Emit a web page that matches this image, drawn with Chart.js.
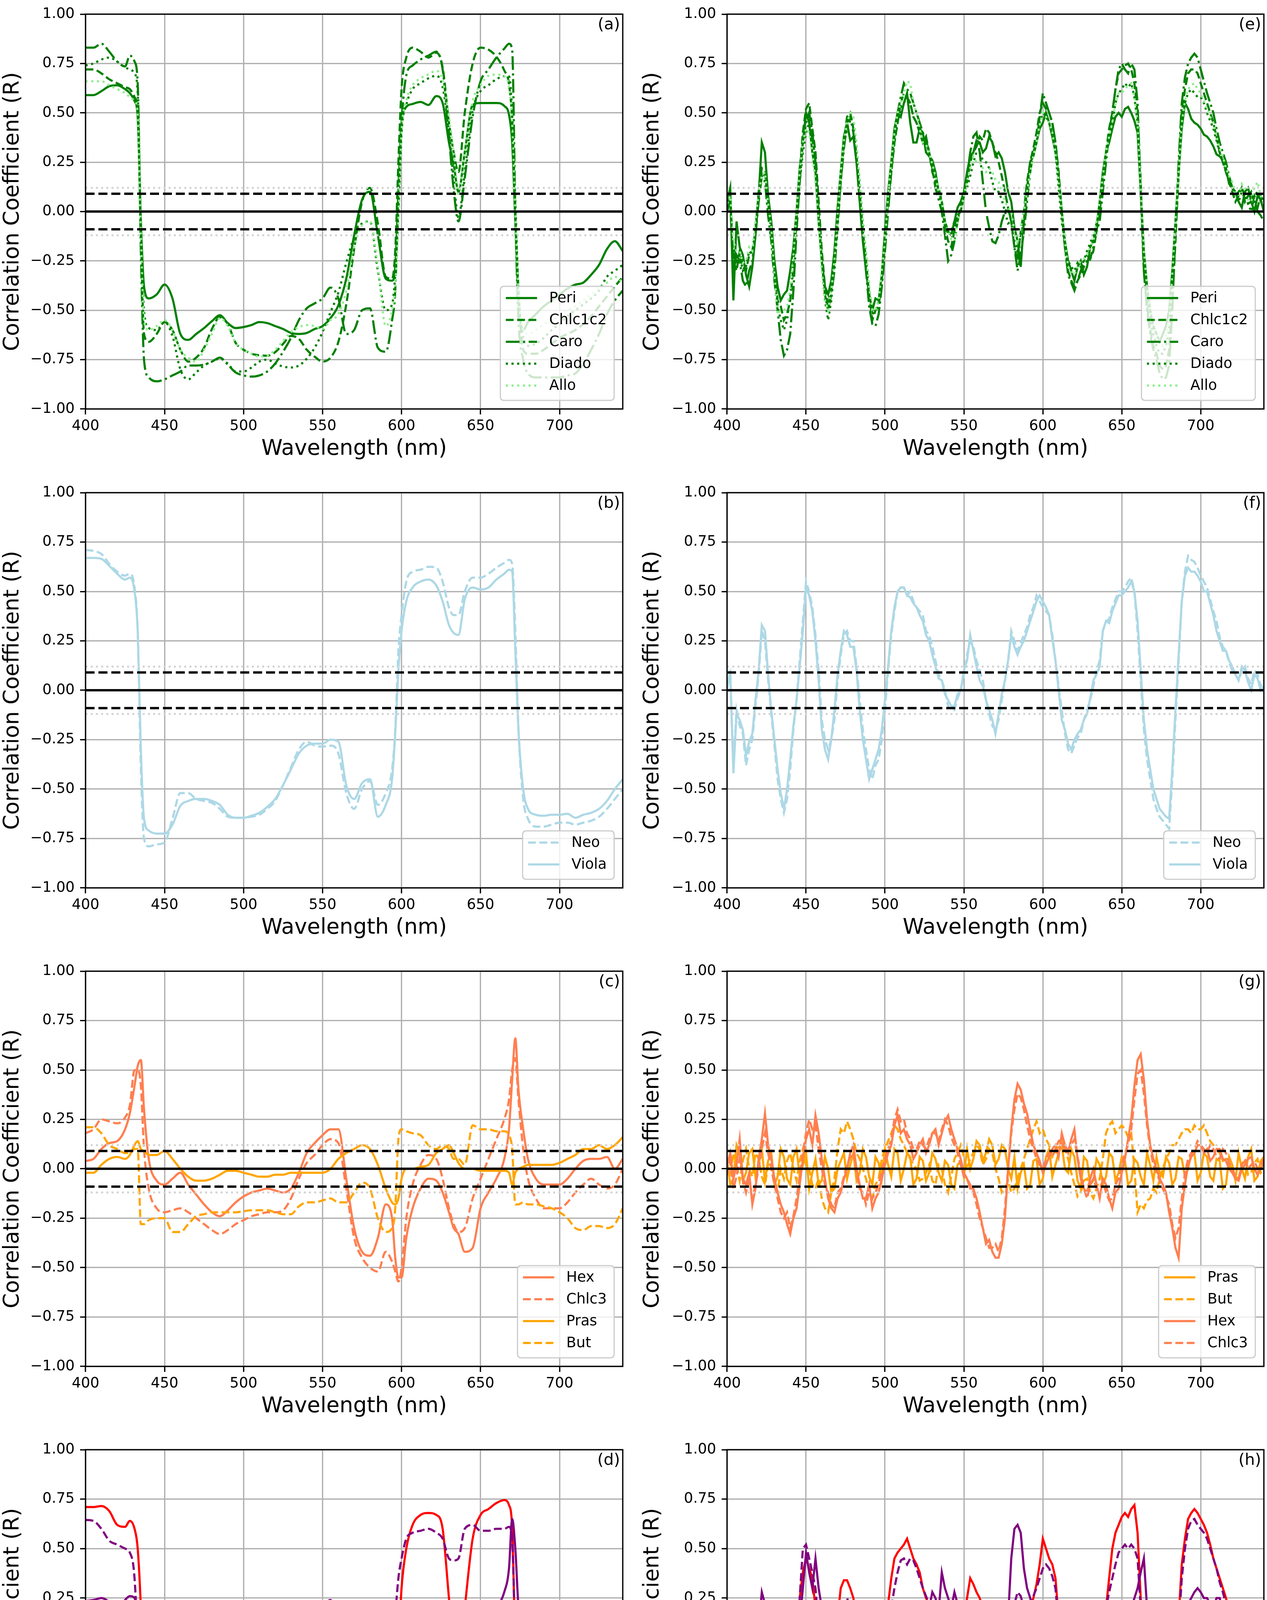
<!DOCTYPE html>
<html>
<head>
<meta charset="utf-8">
<script src="https://cdn.jsdelivr.net/npm/chart.js@4.4.1/dist/chart.umd.min.js"></script>
<style>
html,body{margin:0;padding:0;background:#fff;}
body{position:relative;width:3243px;height:4862px;overflow:hidden;}
canvas{position:absolute;}
</style>
</head>
<body>
<script>
// ---------------- DATA ----------------
const wlSmooth = [400,405,410,415,420,425,428,431,433,435,437,440,445,450,455,460,465,470,475,480,485,490,495,500,505,510,515,520,525,530,535,540,545,550,555,560,565,570,575,580,585,590,594,596,598,600,603,607,612,617,622,626,630,633,636,640,645,650,655,660,665,668,670,672,674,677,680,685,690,695,700,705,710,715,720,725,730,735,740];
const wlNoisy = [400,404,408,412,416,420,424,428,432,436,440,444,448,452,456,460,464,468,472,476,480,484,488,492,496,500,504,508,512,516,520,524,528,532,536,540,544,548,552,556,560,564,568,572,576,580,584,588,592,596,600,604,608,612,616,620,624,628,632,636,640,644,648,652,656,660,664,668,672,676,680,684,688,692,696,700,704,708,712,716,720,724,728,732,736,740];
const wlNoisyMid = [402,406,410,414,418,422,426,430,434,438,442,446,450,454,458,462,466,470,474,478,482,486,490,494,498,502,506,510,514,518,522,526,530,534,538,542,546,550,554,558,562,566,570,574,578,582,586,590,594,598,602,606,610,614,618,622,626,630,634,638,642,646,650,654,658,662,666,670,674,678,682,686,690,694,698,702,706,710,714,718,722,726,730,734,738];
const xTicks = [400,450,500,550,600,650,700];
const yTicks = [-1,-0.75,-0.5,-0.25,0,0.25,0.5,0.75,1];
const sigLevels = [0.09, 0.12];

// (a)
const periA = [0.59,0.59,0.61,0.635,0.64,0.62,0.60,0.56,0.48,-0.05,-0.38, -0.44,-0.42,-0.37,-0.44,-0.62,-0.65,-0.62,-0.59,-0.555,-0.525, -0.565,-0.59,-0.585,-0.575,-0.56,-0.565,-0.58,-0.595,-0.615,-0.62, -0.615,-0.595,-0.58,-0.54,-0.475,-0.34,-0.12,0.06,0.10,-0.12, -0.34,-0.35,-0.28,0.10,0.45,0.53,0.545,0.555,0.54,0.585, 0.55,0.35,0.24,0.10,0.30,0.54,0.55,0.55,0.55,0.535, 0.49,0.35,-0.05,-0.45,-0.60,-0.56,-0.52,-0.48,-0.45,-0.42, -0.39,-0.37,-0.36,-0.32,-0.27,-0.19,-0.15,-0.20];
const chlc12A = [0.72,0.72,0.70,0.67,0.65,0.63,0.62,0.58,0.50,-0.10,-0.62, -0.66,-0.62,-0.56,-0.60,-0.70,-0.76,-0.74,-0.69,-0.595,-0.535, -0.57,-0.665,-0.70,-0.72,-0.728,-0.73,-0.712,-0.67,-0.63,-0.645, -0.70,-0.735,-0.76,-0.74,-0.66,-0.47,-0.19,0.05,0.12,-0.06, -0.33,-0.34,-0.20,0.25,0.62,0.78,0.83,0.81,0.78,0.805, 0.73,0.45,0.30,0.20,0.50,0.75,0.83,0.82,0.785,0.715, 0.645,0.46,0.0,-0.40,-0.70,-0.72,-0.72,-0.70,-0.67,-0.64, -0.62,-0.60,-0.57,-0.53,-0.48,-0.43,-0.38,-0.33];
const caroA = [0.83,0.83,0.85,0.81,0.76,0.735,0.79,0.76,0.65,-0.20,-0.75, -0.84,-0.86,-0.85,-0.83,-0.81,-0.78,-0.78,-0.775,-0.76,-0.74, -0.775,-0.815,-0.83,-0.836,-0.83,-0.81,-0.77,-0.71,-0.64,-0.55, -0.49,-0.465,-0.44,-0.385,-0.44,-0.62,-0.60,-0.50,-0.49,-0.69, -0.71,-0.55,-0.40,0.10,0.45,0.69,0.74,0.77,0.79,0.81, 0.72,0.38,0.11,-0.05,0.17,0.48,0.66,0.72,0.78,0.825, 0.85,0.82,0.0,-0.55,-0.75,-0.82,-0.84,-0.84,-0.84,-0.84, -0.83,-0.82,-0.77,-0.70,-0.62,-0.52,-0.45,-0.40];
const diadoA = [0.74,0.75,0.77,0.78,0.76,0.73,0.72,0.70,0.60,-0.05,-0.50, -0.59,-0.60,-0.56,-0.63,-0.80,-0.85,-0.815,-0.78,-0.76,-0.745, -0.77,-0.81,-0.81,-0.79,-0.76,-0.75,-0.77,-0.785,-0.79,-0.78, -0.745,-0.69,-0.61,-0.51,-0.41,-0.26,-0.13,-0.06,-0.05,-0.30, -0.50,-0.47,-0.32,0.0,0.40,0.54,0.62,0.65,0.675,0.688, 0.63,0.41,0.16,-0.03,0.20,0.51,0.61,0.64,0.67,0.685, 0.685,0.50,0.05,-0.40,-0.64,-0.68,-0.67,-0.64,-0.60,-0.57, -0.53,-0.50,-0.47,-0.44,-0.40,-0.33,-0.30,-0.27];
const alloA = [0.66,0.66,0.66,0.64,0.62,0.60,0.58,0.56,0.50,-0.10,-0.55, -0.60,-0.58,-0.55,-0.60,-0.70,-0.74,-0.76,-0.70,-0.62,-0.54, -0.58,-0.665,-0.70,-0.72,-0.735,-0.73,-0.70,-0.655,-0.61,-0.585, -0.575,-0.58,-0.595,-0.55,-0.52,-0.40,-0.18,-0.07,-0.05,-0.28, -0.58,-0.50,-0.38,-0.05,0.40,0.56,0.64,0.675,0.695,0.713, 0.665,0.48,0.29,0.09,0.30,0.56,0.64,0.688,0.694,0.685, 0.63,0.45,0.0,-0.40,-0.60,-0.62,-0.60,-0.57,-0.55,-0.53, -0.50,-0.48,-0.45,-0.42,-0.39,-0.36,-0.33,-0.36];

// (b)
const neoB = [0.71,0.705,0.69,0.64,0.60,0.58,0.59,0.52,0.30,-0.40,-0.75, -0.79,-0.78,-0.77,-0.65,-0.52,-0.52,-0.55,-0.56,-0.57,-0.60, -0.64,-0.645,-0.645,-0.64,-0.63,-0.60,-0.56,-0.48,-0.39,-0.30, -0.26,-0.28,-0.285,-0.28,-0.32,-0.52,-0.60,-0.50,-0.46,-0.58, -0.52,-0.40,-0.20,0.20,0.38,0.55,0.60,0.61,0.625,0.62, 0.55,0.42,0.38,0.38,0.50,0.57,0.57,0.59,0.62,0.645, 0.66,0.64,0.30,-0.20,-0.55,-0.65,-0.69,-0.69,-0.68,-0.67, -0.67,-0.68,-0.67,-0.66,-0.64,-0.60,-0.55,-0.50];
const violaB = [0.67,0.67,0.665,0.63,0.59,0.56,0.57,0.50,0.30,-0.30,-0.65, -0.71,-0.725,-0.725,-0.68,-0.585,-0.56,-0.55,-0.55,-0.56,-0.58, -0.63,-0.645,-0.645,-0.635,-0.62,-0.59,-0.55,-0.48,-0.40,-0.32, -0.28,-0.27,-0.27,-0.25,-0.26,-0.48,-0.55,-0.47,-0.45,-0.64, -0.58,-0.45,-0.22,0.10,0.30,0.45,0.52,0.55,0.56,0.53, 0.45,0.33,0.29,0.28,0.46,0.52,0.51,0.52,0.56,0.59, 0.61,0.60,0.20,-0.20,-0.50,-0.60,-0.63,-0.635,-0.63,-0.63, -0.625,-0.645,-0.63,-0.62,-0.60,-0.56,-0.50,-0.45];

// (c)
const hexC = [0.04,0.05,0.10,0.13,0.14,0.20,0.28,0.42,0.52,0.55,0.30, 0.05,-0.06,-0.08,-0.05,-0.02,-0.08,-0.13,-0.18,-0.22,-0.24, -0.21,-0.17,-0.14,-0.12,-0.11,-0.10,-0.11,-0.12,-0.10,-0.02, 0.08,0.13,0.17,0.20,0.20,-0.05,-0.30,-0.42,-0.44,-0.35, -0.18,-0.25,-0.45,-0.55,-0.55,-0.35,-0.20,-0.10,-0.05,-0.06, -0.12,-0.22,-0.30,-0.33,-0.42,-0.40,-0.20,-0.12,-0.05,0.05, 0.20,0.45,0.66,0.40,0.20,0.05,-0.05,-0.08,-0.08,-0.08, -0.05,0.0,0.04,0.05,0.05,0.06,0.0,0.05];
const chlc3C = [0.18,0.20,0.25,0.24,0.23,0.26,0.32,0.50,0.50,0.42,0.10, -0.10,-0.20,-0.22,-0.21,-0.20,-0.22,-0.25,-0.28,-0.31,-0.33, -0.31,-0.28,-0.26,-0.24,-0.23,-0.22,-0.22,-0.21,-0.15,-0.05, 0.03,0.07,0.12,0.15,0.13,-0.10,-0.35,-0.45,-0.50,-0.52, -0.42,-0.47,-0.52,-0.57,-0.50,-0.25,-0.08,0.02,0.07,0.05, -0.05,-0.20,-0.28,-0.32,-0.30,-0.15,-0.05,0.05,0.15,0.25, 0.35,0.50,0.56,0.35,0.10,-0.05,-0.15,-0.20,-0.20,-0.20, -0.17,-0.12,-0.08,-0.05,-0.08,-0.10,-0.08,0.0];
const prasC = [-0.02,-0.02,0.02,0.05,0.06,0.05,0.07,0.12,0.14,0.10,0.09, 0.07,0.07,0.09,0.05,0.0,-0.04,-0.06,-0.06,-0.05,-0.03, -0.01,-0.01,-0.02,-0.03,-0.04,-0.04,-0.03,-0.03,-0.02,-0.02, -0.02,-0.02,-0.02,0.0,0.05,0.08,0.10,0.12,0.10,0.02, -0.10,-0.17,-0.18,-0.15,-0.05,0.0,0.0,0.01,0.02,0.08, 0.10,0.12,0.08,0.03,0.0,0.0,-0.01,-0.01,-0.01,-0.01, -0.02,-0.08,-0.02,0.0,0.01,0.02,0.02,0.02,0.02,0.03, 0.05,0.07,0.10,0.10,0.12,0.10,0.12,0.16];
const butC = [0.21,0.21,0.18,0.12,0.10,0.08,0.08,0.10,0.10,-0.28,-0.28, -0.26,-0.25,-0.25,-0.32,-0.32,-0.28,-0.24,-0.23,-0.22,-0.22, -0.22,-0.22,-0.215,-0.21,-0.21,-0.21,-0.22,-0.23,-0.23,-0.19, -0.17,-0.17,-0.16,-0.15,-0.17,-0.17,-0.12,-0.07,-0.10,-0.25, -0.32,-0.30,-0.20,0.15,0.20,0.19,0.18,0.17,0.12,0.10, 0.12,0.10,0.05,0.05,0.02,0.22,0.20,0.20,0.19,0.19, 0.17,0.10,-0.18,-0.18,-0.17,-0.18,-0.18,-0.19,-0.20,-0.22, -0.25,-0.30,-0.31,-0.29,-0.29,-0.30,-0.28,-0.20];

// (d)
const fucoD = [0.71,0.71,0.715,0.69,0.62,0.61,0.64,0.60,0.50,0.20,-0.30, -0.55,-0.67,-0.665,-0.67,-0.70,-0.74,-0.745,-0.74,-0.73,-0.72, -0.73,-0.745,-0.75,-0.745,-0.74,-0.74,-0.75,-0.76,-0.75,-0.72, -0.69,-0.66,-0.62,-0.57,-0.49,-0.45,-0.35,-0.20,-0.17,-0.35, -0.53,-0.40,-0.30,0.0,0.30,0.50,0.62,0.67,0.68,0.67, 0.60,0.25,0.0,-0.10,0.20,0.55,0.67,0.70,0.73,0.745, 0.72,0.60,0.0,-0.40,-0.65,-0.70,-0.72,-0.74,-0.73,-0.73, -0.74,-0.74,-0.68,-0.62,-0.58,-0.55,-0.50,-0.35];
const zeaD = [0.235,0.24,0.25,0.23,0.19,0.24,0.26,0.25,0.15,0.0,-0.20, -0.30,-0.40,-0.47,-0.35,-0.12,-0.08,-0.09,-0.12,-0.16,-0.22, -0.20,-0.20,-0.20,-0.205,-0.20,-0.20,-0.18,-0.10,0.0,0.10, 0.15,0.19,0.21,0.24,0.05,-0.35,-0.62,-0.75,-0.70,-0.50, -0.25,-0.05,0.01,-0.05,-0.05,0.10,0.15,0.20,0.22,0.12, -0.20,-0.32,-0.30,-0.22,-0.23,-0.05,0.08,0.14,0.20,0.28, 0.40,0.65,0.50,0.20,0.0,-0.10,-0.20,-0.30,-0.35,-0.37, -0.37,-0.35,-0.34,-0.33,-0.33,-0.28,-0.23,-0.17];
const chlbD = [0.645,0.64,0.60,0.54,0.52,0.50,0.48,0.35,0.0,-0.60,-0.76, -0.77,-0.74,-0.72,-0.50,-0.38,-0.40,-0.45,-0.50,-0.52,-0.57, -0.55,-0.555,-0.56,-0.565,-0.565,-0.55,-0.50,-0.40,-0.27,-0.20, -0.20,-0.27,-0.30,-0.32,-0.45,-0.58,-0.58,-0.45,-0.38,-0.42, -0.35,-0.15,0.15,0.35,0.45,0.55,0.58,0.59,0.60,0.58, 0.55,0.45,0.44,0.45,0.60,0.62,0.59,0.59,0.60,0.60, 0.61,0.55,0.0,-0.40,-0.60,-0.64,-0.65,-0.64,-0.64,-0.63, -0.63,-0.60,-0.60,-0.58,-0.55,-0.50,-0.47,-0.45];

// (e)  values at wlNoisy, plus in-between values at wlNoisyMid
const periE = [0.05,-0.45,-0.18,-0.32,-0.28,0.08,0.30,-0.05,-0.38,-0.42, -0.30,0.0,0.35,0.45,0.20,-0.25,-0.42,-0.20,0.20,0.45, 0.38,0.05,-0.30,-0.50,-0.45,-0.10,0.25,0.50,0.55,0.45, 0.35,0.40,0.28,0.20,0.05,-0.10,-0.05,0.05,0.20,0.30, 0.35,0.32,0.35,0.30,0.20,0.05,-0.15,-0.05,0.25,0.35, 0.45,0.45,0.30,0.0,-0.25,-0.35,-0.25,-0.28,-0.15,0.05, 0.30,0.42,0.50,0.52,0.50,0.40,-0.20,-0.50,-0.62,-0.62, -0.50,-0.05,0.42,0.52,0.45,0.42,0.38,0.33,0.28,0.22, 0.12,0.05,0.10,0.05,0.08,0.0];
const periEmid = [0.12,-0.05,-0.22,-0.38,-0.12,0.35,0.08,-0.25,-0.45,-0.40, -0.18,0.22,0.50,0.30,-0.05,-0.38,-0.35,0.02,0.38,0.36, 0.25,-0.15,-0.42,-0.44,-0.32,0.10,0.42,0.48,0.60,0.35, 0.42,0.30,0.26,0.10,-0.05,-0.12,0.02,0.10,0.28,0.36, 0.30,0.38,0.28,0.27,0.10,-0.08,-0.28,0.12,0.28,0.42, 0.50,0.38,0.18,-0.15,-0.30,-0.28,-0.32,-0.18,-0.08,0.20, 0.35,0.48,0.48,0.53,0.46,0.10,-0.38,-0.58,-0.66,-0.58, -0.30,0.20,0.55,0.47,0.44,0.39,0.36,0.29,0.26,0.14, 0.10,0.02,0.12,0.00,0.06];
const chlc12E = [0.02,-0.25,-0.20,-0.30,-0.20,0.10,0.20,-0.10,-0.45,-0.55, -0.45,-0.05,0.40,0.55,0.30,-0.20,-0.48,-0.25,0.15,0.48, 0.42,0.10,-0.25,-0.55,-0.48,-0.15,0.20,0.45,0.60,0.55, 0.45,0.35,0.30,0.15,0.05,-0.15,-0.10,0.0,0.15,0.30, 0.38,0.42,0.35,0.25,0.10,-0.05,-0.25,0.0,0.25,0.40, 0.55,0.50,0.35,0.0,-0.30,-0.38,-0.32,-0.25,-0.20,0.0, 0.30,0.50,0.70,0.74,0.72,0.50,-0.30,-0.60,-0.72,-0.80, -0.70,-0.15,0.50,0.70,0.72,0.65,0.55,0.45,0.30,0.20, 0.10,0.08,0.05,0.10,0.02,0.05];
const chlc12Emid = [0.08,-0.30,-0.28,-0.22,-0.10,0.22,0.05,-0.30,-0.48,-0.52, -0.28,0.20,0.52,0.42,0.05,-0.38,-0.40,-0.05,0.35,0.50, 0.28,-0.10,-0.42,-0.50,-0.35,0.05,0.35,0.55,0.58,0.48, 0.40,0.38,0.20,0.12,-0.08,-0.18,-0.02,0.08,0.25,0.33, 0.36,0.40,0.30,0.18,0.02,-0.18,-0.10,0.15,0.32,0.50, 0.52,0.45,0.20,-0.18,-0.35,-0.35,-0.28,-0.24,-0.10,0.15, 0.42,0.62,0.72,0.75,0.65,0.15,-0.48,-0.68,-0.78,-0.78, -0.45,0.20,0.62,0.72,0.70,0.60,0.50,0.38,0.25,0.15, 0.05,0.12,0.08,0.04,0.08];
const caroE = [0.0,-0.30,-0.25,-0.38,-0.25,0.05,0.15,-0.15,-0.50,-0.73, -0.62,-0.10,0.35,0.50,0.25,-0.25,-0.50,-0.30,0.15,0.45, 0.40,0.10,-0.30,-0.57,-0.52,-0.20,0.20,0.50,0.65,0.60, 0.50,0.40,0.30,0.12,0.0,-0.25,-0.15,0.02,0.18,0.38, 0.30,0.0,-0.15,-0.12,0.0,-0.05,-0.30,-0.10,0.20,0.35, 0.60,0.50,0.35,0.0,-0.32,-0.40,-0.30,-0.22,-0.18,-0.05, 0.25,0.50,0.72,0.72,0.75,0.55,-0.30,-0.62,-0.75,-0.85, -0.78,-0.10,0.55,0.75,0.80,0.72,0.60,0.50,0.35,0.25, 0.12,0.10,0.08,0.05,0.0,-0.05];
const caroEmid = [0.05,-0.22,-0.35,-0.30,-0.12,0.18,-0.02,-0.35,-0.65,-0.70, -0.40,0.15,0.45,0.40,0.0,-0.42,-0.42,-0.08,0.32,0.48, 0.25,-0.12,-0.48,-0.58,-0.38,0.0,0.38,0.58,0.62,0.55, 0.45,0.36,0.22,0.06,-0.12,-0.22,-0.05,0.10,0.30,0.40, 0.15,-0.08,-0.16,-0.05,0.02,-0.18,-0.22,0.05,0.30,0.48, 0.55,0.45,0.18,-0.18,-0.36,-0.35,-0.25,-0.24,-0.10,0.10, 0.40,0.62,0.75,0.70,0.72,0.10,-0.50,-0.70,-0.82,-0.84, -0.50,0.25,0.68,0.78,0.78,0.66,0.55,0.42,0.30,0.18, 0.08,0.12,0.04,0.08,-0.02];
const diadoE = [0.03,-0.20,-0.22,-0.28,-0.22,0.08,0.18,-0.05,-0.48,-0.60, -0.42,-0.02,0.30,0.45,0.20,-0.25,-0.55,-0.28,0.20,0.42, 0.45,0.15,-0.22,-0.52,-0.45,-0.15,0.20,0.45,0.55,0.55, 0.45,0.38,0.30,0.15,0.05,-0.12,-0.05,0.0,0.12,0.25, 0.30,0.25,0.15,0.10,0.0,-0.05,-0.20,-0.05,0.25,0.35, 0.50,0.45,0.30,-0.05,-0.25,-0.30,-0.28,-0.20,-0.12,0.0, 0.30,0.45,0.60,0.65,0.65,0.45,-0.25,-0.55,-0.68,-0.72, -0.60,-0.10,0.45,0.60,0.60,0.58,0.50,0.42,0.30,0.20, 0.12,0.05,0.10,0.0,0.10,0.02];
const diadoEmid = [0.06,-0.25,-0.30,-0.20,-0.08,0.20,0.02,-0.30,-0.55,-0.55, -0.25,0.15,0.40,0.35,-0.02,-0.45,-0.45,-0.02,0.34,0.46, 0.32,-0.05,-0.40,-0.50,-0.32,0.05,0.35,0.52,0.58,0.48, 0.40,0.35,0.22,0.08,-0.05,-0.10,-0.02,0.08,0.18,0.30, 0.26,0.22,0.10,0.06,-0.06,-0.15,-0.12,0.10,0.30,0.45, 0.48,0.40,0.12,-0.18,-0.28,-0.26,-0.25,-0.16,-0.06,0.15, 0.38,0.55,0.62,0.63,0.58,0.10,-0.42,-0.62,-0.72,-0.68, -0.38,0.18,0.55,0.62,0.58,0.55,0.46,0.36,0.26,0.15, 0.08,0.10,0.04,0.08,0.05];
const alloE = [0.04,-0.15,-0.20,-0.25,-0.20,0.10,0.20,-0.08,-0.52,-0.50, -0.40,0.0,0.35,0.40,0.15,-0.30,-0.50,-0.25,0.20,0.45, 0.48,0.15,-0.20,-0.50,-0.45,-0.15,0.25,0.50,0.60,0.65, 0.50,0.35,0.30,0.18,0.05,-0.10,-0.15,0.0,0.15,0.28, 0.25,0.20,0.20,0.15,0.05,0.0,-0.15,0.0,0.20,0.35, 0.50,0.45,0.30,0.0,-0.28,-0.32,-0.25,-0.22,-0.15,0.05, 0.30,0.45,0.60,0.62,0.65,0.45,-0.20,-0.50,-0.62,-0.68, -0.55,-0.05,0.45,0.62,0.65,0.60,0.52,0.45,0.32,0.22, 0.15,0.08,0.12,0.05,0.15,0.05];
const alloEmid = [0.08,-0.20,-0.26,-0.18,-0.05,0.18,0.04,-0.32,-0.50,-0.48, -0.22,0.20,0.42,0.30,-0.05,-0.45,-0.40,-0.02,0.36,0.50, 0.35,-0.05,-0.38,-0.50,-0.30,0.08,0.40,0.55,0.66,0.55, 0.42,0.34,0.24,0.10,-0.05,-0.14,-0.05,0.08,0.22,0.25, 0.22,0.22,0.16,0.10,0.02,-0.10,-0.08,0.10,0.28,0.44, 0.48,0.40,0.15,-0.15,-0.30,-0.28,-0.24,-0.18,-0.05,0.18, 0.38,0.55,0.60,0.64,0.58,0.12,-0.38,-0.58,-0.66,-0.62, -0.32,0.20,0.56,0.64,0.62,0.56,0.48,0.38,0.28,0.18, 0.10,0.14,0.06,0.12,0.08];

// (f)
const neoF = [0.02,-0.38,-0.18,-0.38,-0.25,0.08,0.25,-0.12,-0.45,-0.62, -0.40,-0.05,0.35,0.50,0.28,-0.15,-0.30,-0.15,0.18,0.30, 0.25,-0.05,-0.30,-0.45,-0.35,-0.10,0.28,0.50,0.52,0.50, 0.42,0.38,0.28,0.15,0.05,-0.08,-0.10,0.0,0.18,0.22, 0.10,-0.05,-0.18,-0.15,0.05,0.30,0.20,0.28,0.38,0.48, 0.42,0.38,0.15,-0.10,-0.30,-0.28,-0.22,-0.10,0.02,0.15, 0.35,0.42,0.50,0.52,0.57,0.30,-0.20,-0.45,-0.60,-0.66, -0.70,-0.15,0.45,0.68,0.65,0.58,0.52,0.40,0.27,0.20, 0.10,0.05,0.12,0.03,0.08,0.05];
const neoFmid = [0.08,-0.10,-0.22,-0.30,-0.08,0.30,0.05,-0.28,-0.55,-0.55, -0.20,0.15,0.55,0.42,0.10,-0.25,-0.25,0.05,0.28,0.25, 0.12,-0.20,-0.40,-0.38,-0.25,0.10,0.40,0.52,0.48,0.45, 0.40,0.30,0.22,0.08,0.0,-0.10,-0.04,0.08,0.25,0.15, 0.05,-0.12,-0.20,-0.05,0.15,0.25,0.24,0.32,0.42,0.45, 0.40,0.28,0.02,-0.22,-0.32,-0.24,-0.15,-0.05,0.10,0.30, 0.36,0.46,0.50,0.55,0.50,0.05,-0.35,-0.55,-0.64,-0.68, -0.45,0.15,0.60,0.66,0.62,0.55,0.46,0.35,0.22,0.14, 0.08,0.10,0.06,0.10,0.02];
const violaF = [0.0,-0.42,-0.15,-0.33,-0.22,0.10,0.30,-0.10,-0.40,-0.60, -0.35,-0.05,0.30,0.48,0.25,-0.20,-0.35,-0.10,0.20,0.28, 0.22,-0.10,-0.35,-0.40,-0.30,-0.05,0.30,0.50,0.52,0.47, 0.42,0.35,0.25,0.12,0.05,-0.05,-0.08,0.0,0.15,0.20, 0.05,-0.05,-0.15,-0.12,0.05,0.28,0.18,0.25,0.35,0.45, 0.45,0.38,0.15,-0.15,-0.27,-0.25,-0.20,-0.12,0.05,0.12, 0.35,0.40,0.48,0.50,0.55,0.35,-0.15,-0.40,-0.55,-0.62, -0.65,-0.10,0.45,0.62,0.60,0.55,0.50,0.38,0.25,0.20, 0.12,0.05,0.10,0.0,0.06,0.02];
const violaFmid = [0.10,-0.12,-0.20,-0.26,-0.05,0.33,0.08,-0.25,-0.52,-0.50, -0.18,0.12,0.52,0.40,0.05,-0.30,-0.25,0.08,0.30,0.22, 0.10,-0.25,-0.45,-0.35,-0.20,0.12,0.42,0.52,0.48,0.44, 0.38,0.28,0.18,0.06,-0.02,-0.08,-0.02,0.10,0.28,0.12, 0.02,-0.10,-0.22,-0.02,0.15,0.22,0.22,0.30,0.40,0.48, 0.42,0.26,0.0,-0.20,-0.30,-0.22,-0.15,-0.04,0.08,0.30, 0.34,0.44,0.48,0.52,0.50,0.10,-0.30,-0.50,-0.60,-0.64, -0.40,0.18,0.58,0.60,0.58,0.50,0.44,0.30,0.20,0.15, 0.08,0.12,0.04,0.08,0.0];

// (g)
const prasG = [0.05,-0.05,0.08,-0.02,0.10,0.02,-0.06,0.08,-0.04,0.06, -0.08,0.10,0.02,-0.10,0.05,-0.06,0.0,-0.10,0.04,-0.05, 0.08,-0.02,0.06,-0.08,0.03,0.10,-0.04,0.08,0.0,0.06, -0.05,0.04,-0.02,0.05,-0.06,0.02,-0.10,0.04,0.10,0.05, 0.12,0.08,0.12,0.05,0.10,-0.05,-0.10,0.02,-0.08,0.05, -0.05,0.10,0.02,0.12,-0.02,0.06,-0.10,0.04,-0.06,0.02, -0.04,0.06,-0.02,0.04,-0.06,0.03,-0.08,0.02,0.06,-0.04, 0.03,-0.05,0.05,0.0,0.08,-0.02,0.06,-0.06,0.04,-0.08, 0.02,0.08,-0.05,0.10,-0.04,0.06];
const prasGmid = [-0.08,0.12,-0.06,0.08,-0.04,0.10,0.04,-0.08,0.10,-0.05, 0.06,-0.04,0.08,-0.02,-0.08,0.06,-0.12,0.0,0.08,0.02, -0.06,0.10,-0.04,0.06,-0.05,0.02,0.10,-0.06,0.08,-0.08, 0.06,-0.06,0.08,-0.02,0.04,-0.08,0.02,-0.04,0.0,0.14, 0.04,0.15,0.02,0.12,0.0,0.06,-0.02,-0.10,0.04,-0.08, 0.06,-0.04,0.08,0.0,0.10,-0.06,0.06,-0.08,0.05,-0.08, 0.08,-0.06,0.06,-0.08,0.05,-0.04,0.08,-0.06,-0.02,0.06, -0.08,0.06,-0.04,0.08,-0.06,0.08,-0.04,0.05,-0.10,0.06, -0.06,0.0,0.06,-0.06,0.04];
const butG = [0.0,0.08,-0.06,0.10,-0.04,0.05,-0.08,0.06,-0.12,-0.05, 0.08,-0.06,0.10,0.0,-0.10,-0.15,-0.22,-0.05,0.20,0.24, 0.15,0.05,-0.05,-0.15,-0.05,0.10,0.18,0.20,0.12,0.05, 0.0,-0.05,0.02,-0.08,0.0,-0.12,0.05,0.12,0.0,0.08, 0.10,0.05,0.08,-0.05,-0.10,-0.12,-0.05,0.05,0.15,0.24, 0.20,0.12,0.08,0.15,0.05,-0.08,-0.12,-0.05,-0.15,-0.05, 0.18,0.24,0.20,0.20,0.18,-0.22,-0.20,-0.15,-0.12,0.0, 0.08,0.12,0.18,0.20,0.22,0.20,0.18,0.12,0.08,0.05, 0.0,-0.05,0.04,-0.02,0.05,0.0];
const butGmid = [-0.04,0.02,0.04,0.0,0.08,-0.04,0.02,-0.06,0.0,0.04, 0.0,0.04,0.02,-0.08,-0.05,-0.20,-0.12,0.10,0.18,0.20, 0.08,0.0,-0.12,-0.08,0.05,0.14,0.22,0.15,0.08,0.02, -0.06,-0.02,-0.06,0.02,-0.08,-0.04,0.08,0.06,0.05,0.12, 0.02,0.10,0.0,-0.12,-0.06,-0.10,0.0,0.10,0.20,0.18, 0.15,0.06,0.12,0.10,-0.02,-0.14,-0.06,-0.12,-0.10,0.05, 0.22,0.18,0.22,0.16,0.0,-0.18,-0.16,-0.10,-0.05,0.05, 0.12,0.15,0.20,0.18,0.20,0.22,0.14,0.10,0.04,0.02, -0.04,0.02,-0.03,0.03,-0.02];
const hexG = [0.02,-0.05,0.15,-0.08,-0.18,0.05,0.28,0.05,-0.12,-0.22, -0.33,-0.20,0.05,0.20,0.27,0.05,-0.15,-0.22,-0.12,0.0, 0.12,-0.08,-0.15,-0.20,-0.12,0.02,0.12,0.27,0.20,0.12, 0.08,0.15,0.12,0.20,0.18,0.27,0.15,0.05,-0.05,-0.10, -0.22,-0.38,-0.42,-0.45,-0.25,0.20,0.43,0.33,0.20,0.08, -0.02,0.06,0.12,0.18,0.08,0.20,-0.05,-0.12,0.0,-0.15, -0.08,-0.20,-0.10,0.05,0.25,0.55,0.45,0.12,0.0,-0.08, -0.22,-0.40,-0.20,0.02,0.08,0.12,0.10,0.06,0.10,0.04, -0.02,-0.06,0.02,0.06,-0.03,0.03];
const hexGmid = [0.08,0.02,-0.05,-0.02,-0.10,0.15,0.12,-0.05,-0.18,-0.28, -0.25,-0.08,0.15,0.12,0.18,-0.05,-0.20,-0.15,-0.05,0.08, 0.0,-0.15,-0.08,-0.15,-0.05,0.08,0.22,0.18,0.15,0.05, 0.12,0.08,0.18,0.12,0.24,0.20,0.10,-0.02,-0.10,-0.15, -0.30,-0.36,-0.45,-0.38,0.0,0.35,0.40,0.28,0.12,0.04, 0.02,0.10,0.06,0.12,0.15,0.05,-0.10,-0.05,-0.08,-0.05, -0.15,-0.12,-0.02,0.15,0.42,0.58,0.25,0.05,-0.05,-0.12, -0.30,-0.45,-0.08,0.06,0.12,0.08,0.04,0.10,0.05,0.0, -0.05,0.0,0.05,0.0,0.0];
const chlc3G = [-0.03,-0.10,0.05,-0.12,-0.15,0.0,0.18,0.0,-0.15,-0.25, -0.30,-0.15,0.08,0.25,0.22,0.0,-0.12,-0.20,-0.10,0.02, 0.08,-0.10,-0.18,-0.15,-0.08,0.05,0.15,0.30,0.25,0.15, 0.10,0.12,0.15,0.18,0.20,0.22,0.12,0.02,-0.05,-0.12, -0.25,-0.35,-0.40,-0.42,-0.20,0.18,0.38,0.30,0.15,0.05, 0.0,0.08,0.10,0.15,0.10,0.15,-0.02,-0.15,-0.05,-0.10, -0.12,-0.15,-0.05,0.08,0.20,0.48,0.38,0.10,-0.02,-0.10, -0.18,-0.35,-0.15,0.05,0.10,0.12,0.08,0.10,0.05,0.08, 0.0,-0.05,0.05,0.02,0.0,0.05];
const chlc3Gmid = [0.04,-0.04,-0.06,-0.05,-0.08,0.10,0.08,-0.08,-0.22,-0.22, -0.24,-0.04,0.18,0.20,0.10,-0.08,-0.18,-0.12,-0.04,0.06, -0.02,-0.12,-0.12,-0.12,0.0,0.10,0.25,0.24,0.18,0.10, 0.14,0.10,0.18,0.14,0.25,0.16,0.08,-0.04,-0.08,-0.18, -0.30,-0.40,-0.38,-0.35,0.0,0.30,0.36,0.22,0.10,0.02, 0.05,0.06,0.14,0.08,0.12,0.06,-0.10,-0.08,-0.10,-0.06, -0.16,-0.08,0.02,0.12,0.35,0.50,0.22,0.02,-0.06,-0.14, -0.28,-0.30,-0.02,0.08,0.14,0.10,0.12,0.06,0.10,0.03, -0.04,0.02,0.0,0.04,0.02];

// (h)
const fucoH = [0.02,-0.30,-0.18,-0.30,-0.22,0.10,0.12,-0.15,-0.42,-0.60, -0.35,0.0,0.38,0.40,0.20,-0.20,-0.48,-0.12,0.30,0.34, 0.25,-0.05,-0.30,-0.45,-0.35,-0.05,0.35,0.48,0.52,0.50, 0.42,0.30,0.22,0.12,0.02,-0.05,-0.03,0.08,0.25,0.32, 0.25,0.15,0.08,0.05,0.0,-0.03,0.06,0.05,0.20,0.32, 0.55,0.45,0.35,-0.05,-0.35,-0.28,-0.35,-0.30,-0.18,-0.02, 0.20,0.50,0.62,0.68,0.70,0.58,-0.15,-0.50,-0.68,-0.72, -0.62,-0.10,0.42,0.65,0.70,0.65,0.58,0.45,0.35,0.25, 0.12,0.10,0.05,0.08,0.0,0.02];
const fucoHmid = [0.08,-0.15,-0.25,-0.38,-0.10,0.18,0.0,-0.30,-0.55,-0.50, -0.18,0.25,0.45,0.35,-0.15,-0.35,-0.35,0.15,0.34,0.30, 0.12,-0.20,-0.42,-0.44,-0.22,0.22,0.45,0.50,0.55,0.45, 0.38,0.25,0.18,0.05,-0.04,-0.06,0.02,0.15,0.35,0.28, 0.20,0.10,0.02,0.08,-0.04,0.08,-0.08,0.12,0.25,0.42, 0.50,0.42,0.15,-0.22,-0.38,-0.30,-0.25,-0.35,-0.10,0.08, 0.35,0.58,0.66,0.66,0.72,0.25,-0.35,-0.60,-0.70,-0.70, -0.40,0.15,0.55,0.68,0.68,0.62,0.52,0.40,0.30,0.18, 0.15,0.06,0.10,0.02,0.04];
const zeaH = [0.0,0.15,-0.20,-0.20,-0.28,0.10,0.22,-0.05,-0.30,-0.32, -0.35,-0.10,0.30,0.38,0.45,0.20,0.0,-0.10,0.0,-0.05, -0.10,-0.05,-0.12,-0.05,-0.10,-0.08,0.05,0.10,0.15,0.20, 0.12,0.15,0.20,0.25,0.38,0.25,0.28,0.15,0.05,-0.05, -0.20,-0.35,-0.58,-0.55,-0.20,0.45,0.62,0.40,0.25,0.10, 0.05,0.08,0.10,0.05,-0.15,-0.10,-0.20,-0.25,-0.10,0.0, 0.05,0.12,0.15,0.12,0.20,0.30,0.45,0.0,-0.15,-0.25, -0.50,-0.30,0.10,0.22,0.28,0.28,0.25,0.20,0.25,0.15, 0.08,0.05,0.10,0.0,0.05,0.0];
const zeaHmid = [0.08,-0.25,-0.10,-0.30,-0.10,0.28,0.12,-0.22,-0.35,-0.28, -0.30,0.12,0.48,0.30,0.30,0.10,-0.05,0.02,-0.08,-0.02, -0.08,-0.10,-0.02,-0.10,-0.05,0.0,0.12,0.08,0.20,0.10, 0.20,0.10,0.28,0.18,0.30,0.20,0.22,0.10,0.02,-0.12, -0.28,-0.48,-0.62,-0.42,0.15,0.60,0.58,0.30,0.18,0.08, 0.10,0.04,0.08,-0.05,-0.08,-0.18,-0.15,-0.18,-0.02,0.05, 0.10,0.16,0.10,0.18,0.25,0.38,0.20,-0.08,-0.20,-0.35, -0.55,-0.10,0.18,0.25,0.30,0.25,0.22,0.25,0.18,0.12, 0.10,0.0,0.06,0.08,-0.02];
const chlbH = [-0.02,-0.35,-0.20,-0.35,-0.25,0.12,0.15,-0.10,-0.40,-0.58, -0.40,-0.05,0.50,0.45,0.30,-0.05,-0.28,-0.20,0.15,0.25, 0.20,-0.02,-0.25,-0.35,-0.30,-0.05,0.20,0.38,0.45,0.45, 0.40,0.30,0.22,0.15,0.05,-0.08,-0.12,0.02,0.12,0.20, 0.10,0.0,-0.10,-0.12,0.0,0.10,0.28,0.20,0.20,0.30, 0.40,0.40,0.30,-0.02,-0.30,-0.25,-0.28,-0.22,-0.12,0.0, 0.20,0.35,0.48,0.52,0.52,0.45,-0.10,-0.40,-0.55,-0.62, -0.64,-0.15,0.35,0.60,0.65,0.60,0.55,0.45,0.33,0.22, 0.12,0.08,0.05,0.10,0.02,0.0];
const chlbHmid = [0.05,-0.12,-0.28,-0.32,-0.08,0.20,0.02,-0.28,-0.52,-0.50, -0.22,0.25,0.52,0.38,0.10,-0.22,-0.26,-0.02,0.22,0.20, 0.10,-0.15,-0.32,-0.30,-0.20,0.08,0.30,0.44,0.42,0.44, 0.35,0.26,0.18,0.10,-0.02,-0.10,-0.05,0.08,0.18,0.14, 0.05,-0.06,-0.12,-0.08,0.05,0.22,0.26,0.16,0.26,0.35, 0.42,0.36,0.12,-0.18,-0.28,-0.28,-0.24,-0.18,-0.05,0.10, 0.28,0.42,0.50,0.50,0.50,0.20,-0.28,-0.50,-0.60,-0.64, -0.40,0.10,0.50,0.64,0.62,0.58,0.50,0.40,0.28,0.16, 0.10,0.06,0.08,0.05,0.01];

// ---------------- STYLE ----------------
Chart.defaults.font.family = "'DejaVu Sans', sans-serif";
Chart.defaults.color = '#000';
const GREEN = '#008000', LGREEN = '#90ee90', LBLUE = '#add8e6', CORAL = '#ff7f50', ORANGE = '#ffa500', RED = '#ff0000', PURPLE = '#800080';
const LW = 5.5;
const DASH = {solid: [], dashed: [20, 9], dashdot: [35, 9, 5.5, 9], dotted: [5.5, 9]};
const TICK_FONT = 37, TITLE_FONT = 55, LEG_FONT = 37, TAG_FONT = 41;

function S(label, values, color, style, mids) { return {label, values, color, style, mids}; }

const panels = [
  {tag: '(a)', col: 0, row: 0, wl: wlSmooth, smooth: true, series: [S('Peri', periA, GREEN, 'solid'), S('Chlc1c2', chlc12A, GREEN, 'dashed'), S('Caro', caroA, GREEN, 'dashdot'), S('Diado', diadoA, GREEN, 'dotted'), S('Allo', alloA, LGREEN, 'dotted')]},
  {tag: '(b)', col: 0, row: 1, wl: wlSmooth, smooth: true, series: [S('Neo', neoB, LBLUE, 'dashed'), S('Viola', violaB, LBLUE, 'solid')]},
  {tag: '(c)', col: 0, row: 2, wl: wlSmooth, smooth: true, series: [S('Hex', hexC, CORAL, 'solid'), S('Chlc3', chlc3C, CORAL, 'dashed'), S('Pras', prasC, ORANGE, 'solid'), S('But', butC, ORANGE, 'dashed')]},
  {tag: '(d)', col: 0, row: 3, wl: wlSmooth, smooth: true, series: [S('Fuco', fucoD, RED, 'solid'), S('Zea', zeaD, PURPLE, 'solid'), S('Chlb', chlbD, PURPLE, 'dashed')]},
  {tag: '(e)', col: 1, row: 0, wl: wlNoisy, smooth: false, series: [S('Peri', periE, GREEN, 'solid', periEmid), S('Chlc1c2', chlc12E, GREEN, 'dashed', chlc12Emid), S('Caro', caroE, GREEN, 'dashdot', caroEmid), S('Diado', diadoE, GREEN, 'dotted', diadoEmid), S('Allo', alloE, LGREEN, 'dotted', alloEmid)]},
  {tag: '(f)', col: 1, row: 1, wl: wlNoisy, smooth: false, series: [S('Neo', neoF, LBLUE, 'dashed', neoFmid), S('Viola', violaF, LBLUE, 'solid', violaFmid)]},
  {tag: '(g)', col: 1, row: 2, wl: wlNoisy, smooth: false, series: [S('Pras', prasG, ORANGE, 'solid', prasGmid), S('But', butG, ORANGE, 'dashed', butGmid), S('Hex', hexG, CORAL, 'solid', hexGmid), S('Chlc3', chlc3G, CORAL, 'dashed', chlc3Gmid)]},
  {tag: '(h)', col: 1, row: 3, wl: wlNoisy, smooth: false, series: [S('Fuco', fucoH, RED, 'solid', fucoHmid), S('Zea', zeaH, PURPLE, 'solid', zeaHmid), S('Chlb', chlbH, PURPLE, 'dashed', chlbHmid)]}
];

const rowGeom = [{top: 0, pTop: 23, pBot: 1047}, {top: 1225, pTop: 23, pBot: 1048}, {top: 2450, pTop: 24, pBot: 1048}, {top: 3675, pTop: 24, pBot: 1049}];
const colGeom = [{left: 0, w: 1620, pL: 219, pR: 1594}, {left: 1620, w: 1623, pL: 241, pR: 1615}];
const H = 1225;

const fmtY = v => (v < 0 ? '\u2212' : '') + Math.abs(v).toFixed(2);

function roundRect(ctx, x, y, w, h, r) {
  ctx.beginPath();
  ctx.moveTo(x + r, y);
  ctx.lineTo(x + w - r, y); ctx.quadraticCurveTo(x + w, y, x + w, y + r);
  ctx.lineTo(x + w, y + h - r); ctx.quadraticCurveTo(x + w, y + h, x + w - r, y + h);
  ctx.lineTo(x + r, y + h); ctx.quadraticCurveTo(x, y + h, x, y + h - r);
  ctx.lineTo(x, y + r); ctx.quadraticCurveTo(x, y, x + r, y);
  ctx.closePath();
}

const framePlugin = {
  id: 'frame',
  afterDatasetsDraw(chart) {
    const ctx = chart.ctx, a = chart.chartArea;
    const items = chart.data.datasets.filter(d => d.inLegend);
    ctx.save();
    ctx.font = LEG_FONT + 'px "DejaVu Sans"';
    const tw = Math.max(...items.map(d => ctx.measureText(d.label).width));
    const rowH = 56;
    const boxW = 14 + 80 + 31 + tw + 19, boxH = items.length * rowH + 12;
    const x1 = a.right - 22, y1 = a.bottom - 22;
    const x0 = x1 - boxW, y0 = y1 - boxH;
    roundRect(ctx, x0, y0, boxW, boxH, 10);
    ctx.fillStyle = 'rgba(255,255,255,0.8)';
    ctx.fill();
    ctx.lineWidth = 3;
    ctx.strokeStyle = '#cccccc';
    ctx.stroke();
    items.forEach((d, k) => {
      const cy = y0 + 30 + k * rowH;
      ctx.beginPath();
      ctx.setLineDash(d.borderDash || []);
      ctx.lineCap = 'butt';
      ctx.strokeStyle = d.borderColor;
      ctx.lineWidth = d.borderWidth;
      ctx.moveTo(x0 + 14, cy);
      ctx.lineTo(x0 + 94, cy);
      ctx.stroke();
      ctx.setLineDash([]);
      ctx.fillStyle = '#000';
      ctx.textAlign = 'left';
      ctx.textBaseline = 'middle';
      ctx.fillText(d.label, x0 + 125, cy + 1);
    });
    ctx.restore();
  },
  afterDraw(chart) {
    const ctx = chart.ctx, a = chart.chartArea;
    ctx.save();
    ctx.setLineDash([]);
    ctx.strokeStyle = '#000';
    ctx.lineWidth = 3.3;
    ctx.strokeRect(a.left, a.top, a.right - a.left, a.bottom - a.top);
    ctx.font = TAG_FONT + 'px "DejaVu Sans"';
    ctx.fillStyle = '#000';
    ctx.textAlign = 'right';
    ctx.textBaseline = 'middle';
    ctx.fillText(chart.options.panelTag, a.right - 7, a.top + 28);
    ctx.restore();
  }
};

function buildPoints(wl, vals, midWl, mids) {
  const pts = wl.map((x, j) => ({x: x, y: vals[j]}));
  if (mids) mids.forEach((v, j) => pts.push({x: midWl[j], y: v}));
  pts.sort((p, q) => p.x - q.x);
  return pts;
}

panels.forEach(p => {
  const cg = colGeom[p.col], rg = rowGeom[p.row];
  const cv = document.createElement('canvas');
  cv.width = cg.w; cv.height = H;
  cv.style.left = cg.left + 'px'; cv.style.top = rg.top + 'px';
  cv.style.width = cg.w + 'px'; cv.style.height = H + 'px';
  document.body.appendChild(cv);

  const datasets = p.series.map((s, i) => ({
    label: s.label,
    data: buildPoints(p.wl, s.values, wlNoisyMid, s.mids),
    borderColor: s.color,
    backgroundColor: s.color,
    borderWidth: LW,
    borderDash: DASH[s.style],
    pointRadius: 0,
    fill: false,
    tension: 0,
    cubicInterpolationMode: p.smooth ? 'monotone' : 'default',
    order: 100 - i,
    inLegend: true
  }));
  const ref = (y, color, dash, w, ord) => ({
    label: '', data: [{x: 400, y: y}, {x: 740, y: y}], borderColor: color, borderWidth: w,
    borderDash: dash, pointRadius: 0, fill: false, order: ord, inLegend: false
  });
  datasets.push(ref(sigLevels[1], '#d3d3d3', [5, 8.3], 5, 3));
  datasets.push(ref(-sigLevels[1], '#d3d3d3', [5, 8.3], 5, 3));
  datasets.push(ref(sigLevels[0], '#000', [23, 10], 6, 2));
  datasets.push(ref(-sigLevels[0], '#000', [23, 10], 6, 2));
  datasets.push(ref(0, '#000', [], 6, 1));

  const axisH = H - rg.pBot;
  const xTitlePad = Math.max(0, axisH - 103 - TITLE_FONT * 0.6);
  const yTitlePad = Math.max(0, cg.pL - 190 - TITLE_FONT * 0.6);
  const gridOpts = {color: '#b0b0b0', lineWidth: 3.3, drawTicks: true, tickLength: 14, tickColor: '#000', tickWidth: 3.3};

  new Chart(cv, {
    type: 'line',
    data: {datasets: datasets},
    options: {
      panelTag: p.tag,
      responsive: false,
      maintainAspectRatio: false,
      devicePixelRatio: 1,
      animation: false,
      events: [],
      layout: {padding: {top: rg.pTop, right: cg.w - cg.pR, left: 0, bottom: 0}},
      plugins: {legend: {display: false}, tooltip: {enabled: false}, title: {display: false}},
      scales: {
        x: {
          type: 'linear', min: 400, max: 740,
          afterBuildTicks: s => { s.ticks = xTicks.map(v => ({value: v})); },
          afterFit: s => { s.height = axisH; },
          grid: gridOpts,
          border: {display: false},
          ticks: {font: {size: TICK_FONT}, padding: 8, maxRotation: 0, autoSkip: false, color: '#000', callback: v => String(v)},
          title: {display: true, text: 'Wavelength (nm)', color: '#000', font: {size: TITLE_FONT}, padding: {top: 0, bottom: xTitlePad}}
        },
        y: {
          type: 'linear', min: -1, max: 1,
          afterBuildTicks: s => { s.ticks = yTicks.map(v => ({value: v})); },
          afterFit: s => { s.width = cg.pL; },
          grid: gridOpts,
          border: {display: false},
          ticks: {font: {size: TICK_FONT}, padding: 14, color: '#000', callback: v => fmtY(v)},
          title: {display: true, text: 'Correlation Coefficient (R)', color: '#000', font: {size: TITLE_FONT}, padding: {top: yTitlePad, bottom: 0}}
        }
      }
    },
    plugins: [framePlugin]
  });
});
</script>
</body>
</html>
